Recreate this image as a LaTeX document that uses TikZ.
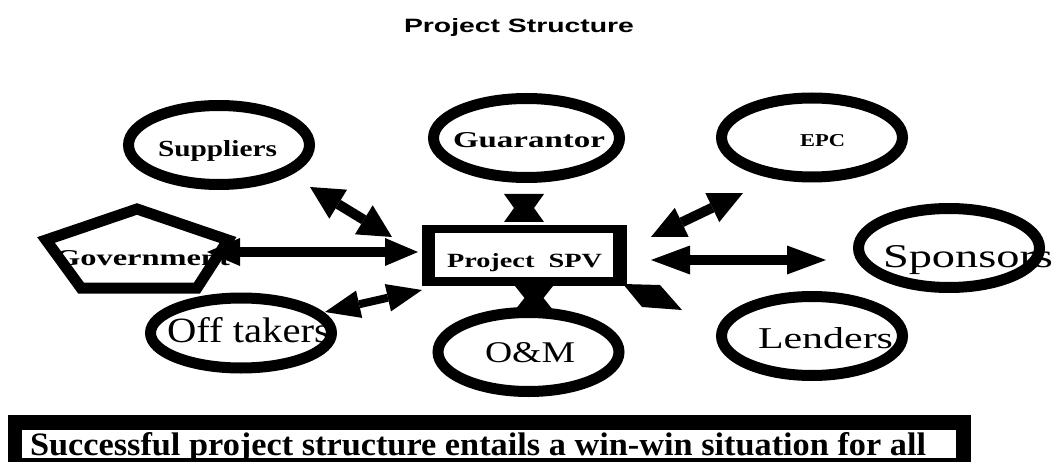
\documentclass[tikz,border=0pt]{standalone}
\usepackage{fontspec}
\setmainfont{Liberation Serif}
\setsansfont{Liberation Sans}
\usetikzlibrary{arrows.meta,shapes.geometric,calc}
\tikzset{
  ring/.style={draw=black,line width=11pt,ellipse,fill=white,minimum width=181pt,minimum height=79pt,inner sep=0pt},
  lbl/.style={anchor=base west,inner sep=0pt,outer sep=0pt},
  dbl/.style n args={3}{draw=black,line width=#1,
     {Triangle[length=#3,width=#2,line width=0pt]}-{Triangle[length=#3,width=#2,line width=0pt]}},
  tie/.style={fill=black},
  frame/.style={fill=white,inner sep=0pt,outer sep=0pt},
}
\newcommand{\fitb}[3]{\resizebox{#1}{#2}{#3}}
\begin{document}
\begin{tikzpicture}[x=1pt,y=-1pt]
\useasboundingbox (0,0) rectangle (1056,462);
\clip (0,0) rectangle (1056,462);
\fill[white] (0,0) rectangle (1056,462);

% title
\node[lbl] (title) at (404,33) {\fitb{230pt}{14pt}{\sffamily\bfseries Project Structure}};

% ellipses
\node[ring] (sup) at (219,145) {};
\node[ring,minimum width=186pt] (gua) at (526.5,138) {};
\node[ring] (epc) at (812,137.5) {};
\node[ring] (spo) at (949,248) {};
\node[ring,minimum height=70pt] (off) at (241,333) {};
\node[ring] (om) at (528.5,352) {};
\node[ring] (len) at (812,336) {};

% government pentagon
\draw[line width=11pt,line join=miter,fill=white] (137,209) -- (228,240) -- (197,288) -- (81,288) -- (46,240) -- cycle;
\coordinate (gov) at (137,250);

% SPV box
\fill (422,225) rectangle (627,286);
\node[frame,minimum width=178pt,minimum height=44pt] (spv) at (524,255) {};

% bottom box
\fill (8,415) rectangle (971,470);
\node[frame,minimum width=934pt,minimum height=28pt] (msg) at (489,444) {};

% labels
\node[lbl] (supT) at (158,157) {\fitb{119pt}{16pt}{\bfseries Suppliers}};
\node[lbl] (guaT) at (453,148) {\fitb{152pt}{15pt}{\bfseries Guarantor}};
\node[lbl] (epcT) at (800,147) {\fitb{45pt}{12pt}{\bfseries EPC}};
\node[lbl] (govT) at (55,265) {\fitb{175pt}{15pt}{\bfseries Government}};
\node[lbl] (spvT) at (447,267) {\fitb{155pt}{14pt}{\bfseries Project~~SPV}};
\node[lbl] (spoT) at (883,267) {\fitb{170pt}{22pt}{Sponsors}};
\node[lbl] (offT) at (167,342) {\fitb{163pt}{25pt}{Off takers}};
\node[lbl] (omT) at (485,362) {\fitb{90pt}{20pt}{O\&M}};
\node[lbl] (lenT) at (758,348) {\fitb{135pt}{21pt}{Lenders}};
\node[lbl] (msgT) at (30,455) {\fitb{896pt}{23pt}{\bfseries Successful project structure entails a win-win situation for all}};

% connectors
\coordinate (supA) at (310,187); \coordinate (spvA) at (392,237);
\draw[dbl={10pt}{34pt}{33pt}] (supA) -- (spvA);
\coordinate (epcA) at (743,193); \coordinate (spvB) at (651,237);
\draw[dbl={10pt}{32pt}{34pt}] (epcA) -- (spvB);
\coordinate (govA) at (207,252); \coordinate (spvC) at (418,252);
\draw[dbl={10pt}{28pt}{33pt}] (govA) -- (spvC);
\coordinate (spvD) at (651,260); \coordinate (spoA) at (826,260);
\draw[dbl={10pt}{29pt}{39pt}] (spvD) -- (spoA);
\coordinate (offA) at (325,312); \coordinate (spvE) at (422,290);
\draw[dbl={8pt}{28pt}{35pt}] (offA) -- (spvE);

% bow ties
\coordinate (guaB) at (524,194); \coordinate (spvT1) at (524,222);
\fill[tie] ($(guaB)+(-20,0)$) -- ($(guaB)+(20,0)$) -- (spvT1) -- cycle;
\fill[tie] ($(spvT1)+(-20,0)$) -- ($(spvT1)+(20,0)$) -- (guaB) -- cycle;
\draw[line width=1.5pt] (guaB) -- (spvT1);
\coordinate (spvBt) at (534,286); \coordinate (omTop) at (534,310);
\fill[tie] ($(spvBt)+(-19,0)$) -- ($(spvBt)+(19,0)$) -- (omTop) -- cycle;
\fill[tie] ($(omTop)+(-19,0)$) -- ($(omTop)+(19,0)$) -- (spvBt) -- cycle;
\coordinate (spvR) at (623,284); \coordinate (lenA) at (682,310);
\fill[tie] (spvR) -- (660,285) -- (lenA) -- (642,307) -- cycle;
\end{tikzpicture}
\end{document}
